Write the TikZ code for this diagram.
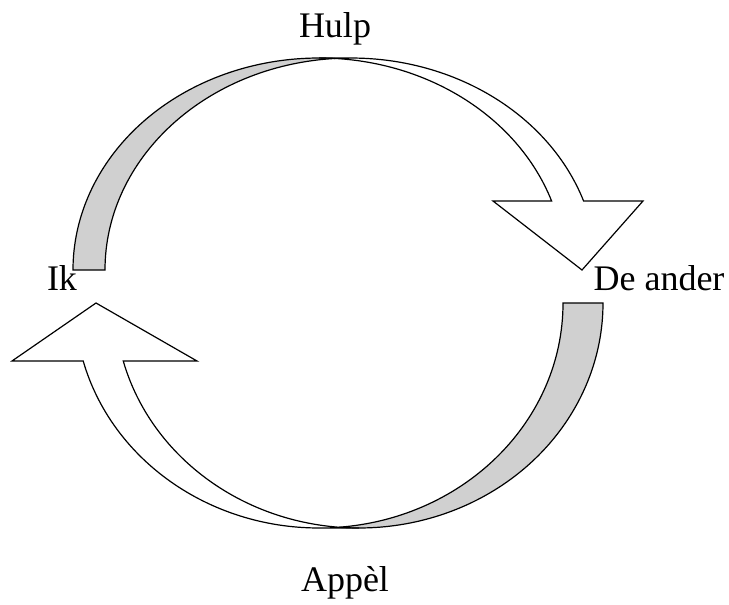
\documentclass[tikz,border=0pt]{standalone}
\usepackage{fontspec}
\setmainfont{Liberation Serif}
\usetikzlibrary{positioning}
\definecolor{bandgray}{RGB}{208,208,208}

\begin{document}
\begin{tikzpicture}[x=1pt, y=-1pt, line width=1.2pt,
    tekst/.style={anchor=base, inner sep=0pt, font=\fontsize{36}{43}\selectfont},
    backband/.style={draw, fill=bandgray},
    frontband/.style={draw, fill=white}]
   \useasboundingbox (0,0) rectangle (729,605);
   % upper arrow
   \path[backband] (73,270)
      arc[start angle=180, end angle=273.73, x radius=246, y radius=212]
      arc[start angle=266.27, end angle=180, x radius=246, y radius=212] -- cycle;
   \path[frontband] (319,58)
      arc[start angle=270, end angle=341, x radius=246, y radius=212]
      -- (493,201) -- (582,270) -- (643,201) -- (583.6,201)
      arc[start angle=341, end angle=270, x radius=246, y radius=212] -- cycle;
   % lower arrow
   \path[backband] (603,303)
      arc[start angle=0, end angle=94.70, x radius=244, y radius=225]
      arc[start angle=85.30, end angle=0, x radius=244, y radius=225] -- cycle;
   \path[frontband] (359,528)
      arc[start angle=90, end angle=165.06, x radius=244, y radius=225]
      -- (197,361) -- (96,303) -- (12,361) -- (83.2,361)
      arc[start angle=165.06, end angle=90, x radius=244, y radius=225] -- cycle;
   \node[tekst] (hulp)  at (335,37)  {Hulp};
   \node[tekst] (ik)    at (62,290)  {Ik};
   \node[tekst] (ander) at (659,290) {De ander};
   \node[tekst] (appel) at (345,591) {Appèl};
\end{tikzpicture}
\end{document}
